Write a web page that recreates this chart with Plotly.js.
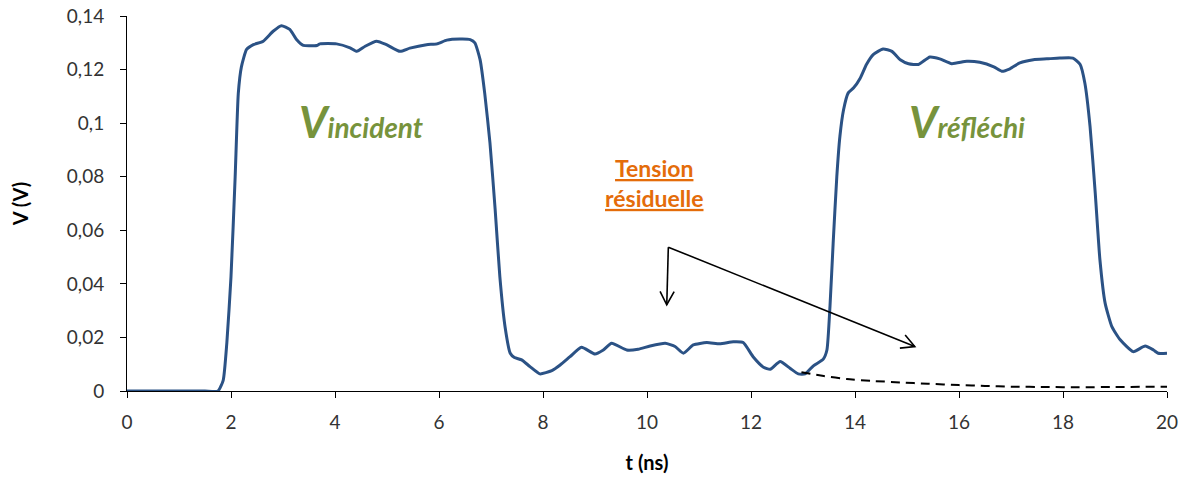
<!DOCTYPE html>
<html>
<head>
<meta charset="utf-8">
<script src="https://cdn.plot.ly/plotly-3.0.1.min.js"></script>
<style>html,body{margin:0;padding:0;background:#fff;}#chart{width:1182px;height:477px;}</style>
</head>
<body>
<div id="chart"></div>
<script>
// Measured signal
const tSignal = [0,0.5,1.0,1.5,1.75,1.85,1.92,2.0,2.08,2.14,2.2,2.3,2.43,2.62,2.81,2.97,3.13,3.26,3.39,3.65,3.71,4.03,4.29,4.42,4.58,4.8,4.99,5.25,5.44,5.76,5.96,6.15,6.4,6.6,6.69,6.79,6.88,6.98,7.08,7.17,7.27,7.37,7.45,7.59,7.75,7.94,8.17,8.33,8.52,8.74,9.0,9.16,9.32,9.61,9.83,10.06,10.35,10.54,10.7,10.89,11.15,11.4,11.66,11.85,12.04,12.24,12.37,12.56,12.75,12.91,13.04,13.2,13.39,13.46,13.52,13.58,13.65,13.71,13.78,13.87,13.97,14.1,14.22,14.35,14.54,14.71,14.87,15.03,15.22,15.44,15.63,15.86,16.15,16.4,16.67,16.82,16.98,17.17,17.43,17.69,17.94,18.19,18.33,18.42,18.52,18.62,18.71,18.81,18.94,19.1,19.35,19.58,19.74,19.83,20];
const vSignal = [0,0,0,0,0,0.004,0.018,0.0427,0.080,0.111,0.121,0.1275,0.1293,0.1306,0.1343,0.1364,0.135,0.1312,0.129,0.129,0.1296,0.1296,0.1281,0.1268,0.1287,0.1306,0.1293,0.1268,0.128,0.1293,0.1296,0.131,0.1314,0.1312,0.13,0.1237,0.111,0.0926,0.0677,0.0427,0.024,0.0141,0.0125,0.0116,0.0091,0.0064,0.0076,0.0097,0.0128,0.0163,0.0138,0.0153,0.0178,0.0153,0.0156,0.0168,0.0178,0.0166,0.0141,0.0172,0.0181,0.0176,0.0184,0.0181,0.0128,0.0089,0.0081,0.011,0.0085,0.0064,0.0064,0.0094,0.0119,0.0153,0.032,0.0552,0.080,0.0951,0.105,0.1113,0.1131,0.1168,0.1219,0.1256,0.1277,0.1268,0.1237,0.1222,0.1219,0.1247,0.124,0.1222,0.1231,0.1227,0.121,0.1194,0.1203,0.1225,0.1237,0.124,0.1243,0.1243,0.1219,0.115,0.0988,0.0739,0.049,0.0328,0.024,0.0191,0.0147,0.0168,0.0153,0.0141,0.0141];

// Residual voltage (dashed)
const tResidual = [12.97,13.4,13.84,14.3,14.87,15.4,16.0,16.5,17.0,17.7,18.3,19.0,20];
const vResidual = [0.007,0.0056,0.0045,0.0038,0.0032,0.0027,0.0022,0.0019,0.0016,0.0015,0.0014,0.0015,0.0016];

// Axis ticks
const xTicks = [0,2,4,6,8,10,12,14,16,18,20];
const yTicks = [0,0.02,0.04,0.06,0.08,0.1,0.12,0.14];

// Labels
const labelIncident = {t: 4.5, v: 0.0905, main: 'V', sub: 'incident'};
const labelReflected = {t: 16.15, v: 0.0905, main: 'V', sub: 'réfléchi'};
const labelResidual = {t: 10.15, v: 0.066, lines: ['Tension', 'résiduelle']};
const arrowOrigin = {t: 10.41, v: 0.0537};
const arrowTips = [{t: 10.38, v: 0.0322}, {t: 15.15, v: 0.0166}];

const FONT = 'Lato, "Open Sans", sans-serif';
const green = '#77933C';
const orange = '#E46C0A';

// plot geometry (for arrow head orientation only)
const W = 1182, H = 477, M = {l: 127, r: 15, t: 16, b: 86};
const X_RANGE = [0, 20], Y_RANGE = [0, 0.14];
const pxPerX = (W - M.l - M.r) / (X_RANGE[1] - X_RANGE[0]);
const pxPerY = (H - M.t - M.b) / (Y_RANGE[1] - Y_RANGE[0]);

const traces = [
  {x: tSignal, y: vSignal, type: 'scatter', mode: 'lines',
   line: {color: '#2B5285', width: 3, shape: 'spline', smoothing: 0.5}, hoverinfo: 'skip'},
  {x: tResidual, y: vResidual, type: 'scatter', mode: 'lines',
   line: {color: '#000', width: 2, dash: '9px,6px', shape: 'spline', smoothing: 0.6}, hoverinfo: 'skip'}
];

const annotations = [
  {x: labelIncident.t, y: labelIncident.v, xref: 'x', yref: 'y', showarrow: false,
   text: '<b><i><span style="font-size:44px">' + labelIncident.main + '</span>' + labelIncident.sub + '</i></b>',
   font: {family: FONT, size: 28, color: green}, xanchor: 'center', yanchor: 'bottom'},
  {x: labelReflected.t, y: labelReflected.v, xref: 'x', yref: 'y', showarrow: false,
   text: '<b><i><span style="font-size:44px">' + labelReflected.main + '</span>' + labelReflected.sub + '</i></b>',
   font: {family: FONT, size: 28, color: green}, xanchor: 'center', yanchor: 'bottom'},
  {x: labelResidual.t, y: labelResidual.v, xref: 'x', yref: 'y', showarrow: false,
   text: '<b><u>' + labelResidual.lines[0] + '</u></b><br><b><u>' + labelResidual.lines[1] + '</u></b>',
   font: {family: FONT, size: 23, color: orange}, xanchor: 'center', yanchor: 'bottom', align: 'center'}
];

const shapes = [];
arrowTips.forEach(function(tip){
  // shaft
  shapes.push({type: 'line', xref: 'x', yref: 'y', x0: arrowOrigin.t, y0: arrowOrigin.v, x1: tip.t, y1: tip.v,
    line: {color: '#000', width: 1.6}});
  // open chevron head, drawn in pixels relative to the tip
  const dx = (tip.t - arrowOrigin.t) * pxPerX, dy = (tip.v - arrowOrigin.v) * pxPerY;
  const len = Math.hypot(dx, dy), ux = dx / len, uy = dy / len;
  const L = 15, ang = 28 * Math.PI / 180;
  const c = Math.cos(ang), s = Math.sin(ang);
  const a1 = [-L * (ux * c - uy * s), -L * (uy * c + ux * s)];
  const a2 = [-L * (ux * c + uy * s), -L * (uy * c - ux * s)];
  shapes.push({type: 'path', xref: 'x', yref: 'y', xsizemode: 'pixel', ysizemode: 'pixel',
    xanchor: tip.t, yanchor: tip.v,
    path: 'M ' + a1[0].toFixed(2) + ' ' + a1[1].toFixed(2) + ' L 0 0 L ' + a2[0].toFixed(2) + ' ' + a2[1].toFixed(2),
    line: {color: '#000', width: 1.6}});
});

const layout = {
  width: W, height: H,
  margin: M,
  paper_bgcolor: '#fff', plot_bgcolor: '#fff',
  separators: ', ',
  showlegend: false,
  font: {family: FONT, size: 18, color: '#333'},
  xaxis: {
    range: X_RANGE, tickvals: xTicks, ticks: 'outside', ticklen: 6, tickcolor: '#000',
    showline: true, linecolor: '#000', linewidth: 1, showgrid: false, zeroline: false,
    ticklabelstandoff: 8,
    tickfont: {family: FONT, size: 19, color: '#333'},
    title: {text: '<b>t (ns)</b>', font: {family: FONT, size: 20, color: '#000'}, standoff: 24}
  },
  yaxis: {
    range: Y_RANGE, tickvals: yTicks, ticks: 'outside', ticklen: 6, tickcolor: '#000',
    showline: true, linecolor: '#000', linewidth: 1, showgrid: false, zeroline: false,
    ticklabelstandoff: 12,
    tickfont: {family: FONT, size: 19, color: '#333'},
    title: {text: '<b>V (V)</b>', font: {family: FONT, size: 20, color: '#000'}, standoff: 32}
  },
  annotations: annotations,
  shapes: shapes
};

Plotly.newPlot('chart', traces, layout, {staticPlot: true, displayModeBar: false});
</script>
</body>
</html>
